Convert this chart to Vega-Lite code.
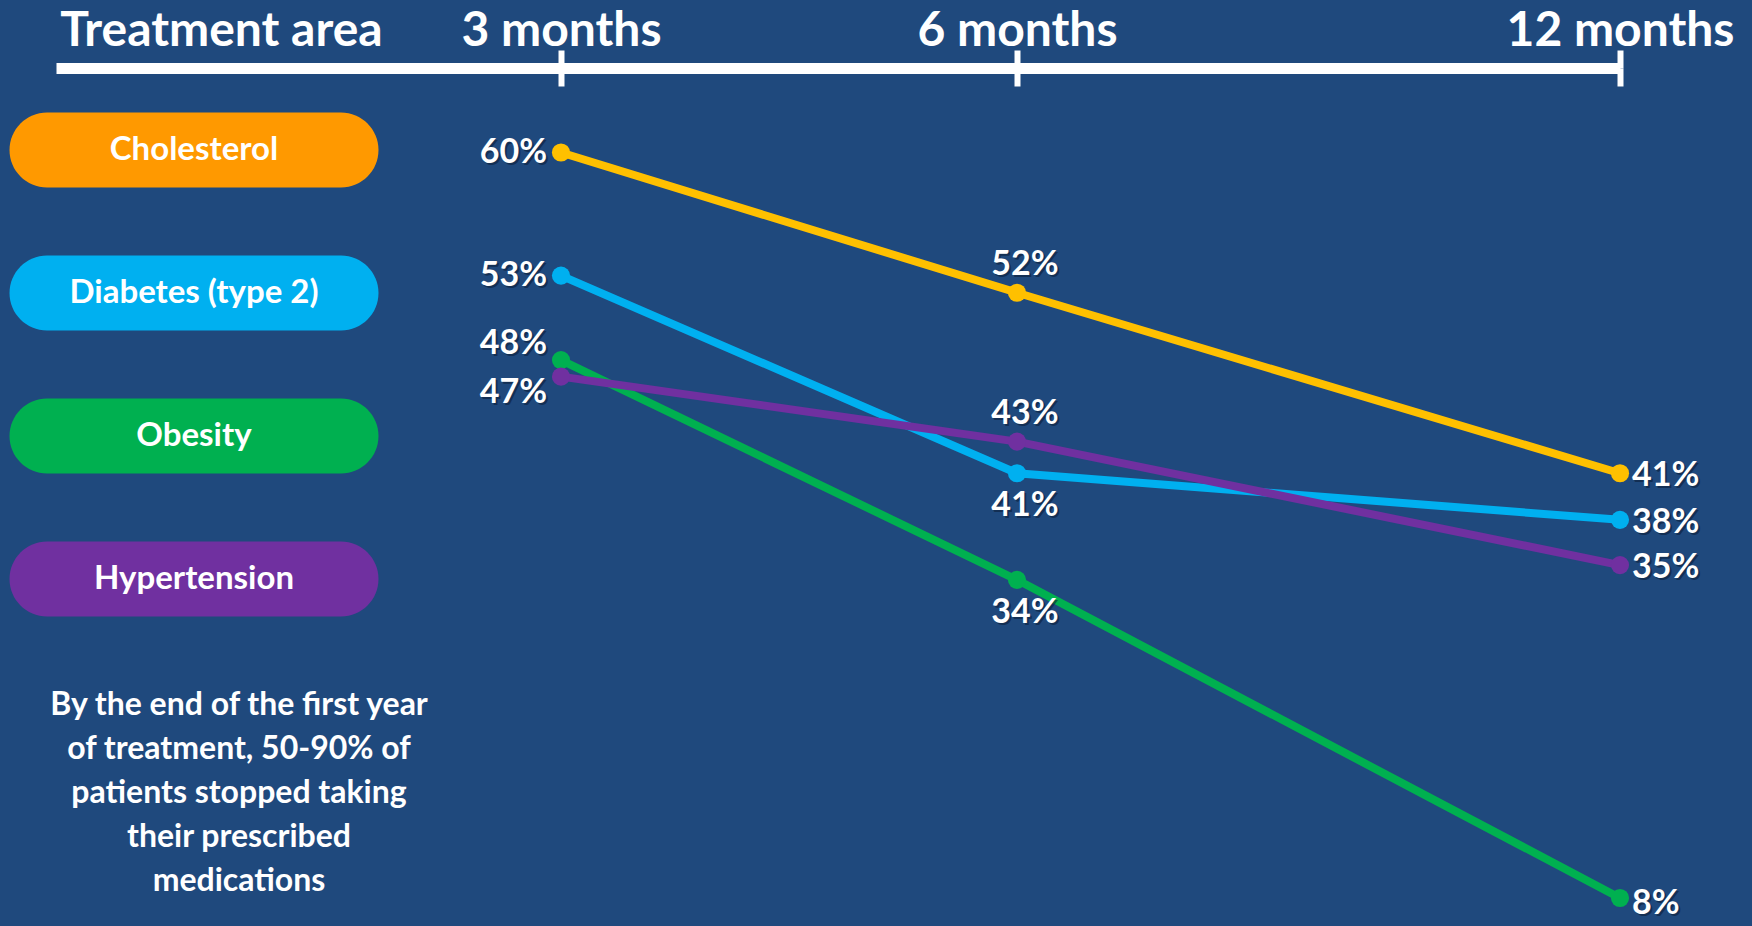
{
  "$schema": "https://vega.github.io/schema/vega-lite/v6.json",
  "width": 1752,
  "height": 926,
  "autosize": {"type": "fit", "contains": "padding"},
  "padding": 0,
  "background": "#1F497D",
  "config": {"view": {"stroke": null}, "font": "Lato"},
  "data": {
    "values": [
      {"area": "Cholesterol", "month": 3, "value": 0.60},
      {"area": "Cholesterol", "month": 6, "value": 0.52},
      {"area": "Cholesterol", "month": 12, "value": 0.41},
      {"area": "Diabetes (type 2)", "month": 3, "value": 0.53},
      {"area": "Diabetes (type 2)", "month": 6, "value": 0.41},
      {"area": "Diabetes (type 2)", "month": 12, "value": 0.38},
      {"area": "Obesity", "month": 3, "value": 0.48},
      {"area": "Obesity", "month": 6, "value": 0.34},
      {"area": "Obesity", "month": 12, "value": 0.08},
      {"area": "Hypertension", "month": 3, "value": 0.47},
      {"area": "Hypertension", "month": 6, "value": 0.43},
      {"area": "Hypertension", "month": 12, "value": 0.35}
    ]
  },
  "layer": [
    {
      "encoding": {
        "x": {
          "field": "month",
          "type": "quantitative",
          "scale": {"domain": [-1, 0, 3, 6, 12], "range": [56, 194, 561, 1017, 1620], "nice": false, "zero": false},
          "axis": {
            "orient": "top",
            "offset": -68,
            "values": [0, 3, 6, 12],
            "labelExpr": "datum.value == 0 ? 'Treatment area' : datum.value + ' months'",
            "labelFont": "Lato",
            "labelFontSize": 48,
            "labelFontWeight": "bold",
            "labelColor": "white",
            "labelBaseline": "alphabetic",
            "labelPadding": 5,
            "labelLimit": 600,
            "labelOverlap": false,
            "labelFlush": false,
            "labelBound": false,
            "labelOffset": {"condition": {"test": "datum.value == 0", "value": 27}, "value": 0},
            "tickSize": 18,
            "tickWidth": 6,
            "tickColor": "white",
            "tickCap": "butt",
            "tickOpacity": {"condition": {"test": "datum.value == 0", "value": 0}, "value": 1},
            "domainColor": "white",
            "domainWidth": 11,
            "domainCap": "butt",
            "grid": false,
            "title": null
          }
        },
        "y": {
          "field": "value",
          "type": "quantitative",
          "scale": {"type": "pow", "exponent": 1.35, "domain": [0.0455, 0.683], "nice": false, "zero": false},
          "axis": null
        }
      },
      "layer": [
        {
          "mark": {"type": "line", "strokeWidth": 8},
          "encoding": {
            "color": {
              "field": "area",
              "type": "nominal",
              "scale": {"domain": ["Cholesterol", "Diabetes (type 2)", "Obesity", "Hypertension"], "range": ["#FFC000", "#00B0F0", "#00B050", "#7030A0"]},
              "legend": null
            }
          }
        },
        {
          "mark": {"type": "point", "filled": true, "opacity": 1, "size": 330},
          "encoding": {
            "color": {"field": "area", "type": "nominal", "legend": null}
          }
        },
        {
          "mark": {
            "type": "text",
            "baseline": "middle",
            "font": "Lato",
            "fontSize": 34,
            "fontWeight": "bold",
            "fill": "#0b1a33",
            "opacity": 0.55,
            "align": {"expr": "datum.month == 3 ? 'right' : datum.month == 6 ? 'center' : 'left'"},
            "dx": {"expr": "(datum.month == 3 ? -14 : datum.month == 6 ? 8 : 12) + 2"},
            "dy": {"expr": "(datum.month == 3 ? (datum.area == 'Obesity' ? -16 : datum.area == 'Hypertension' ? 16 : 0) : datum.month == 6 ? ((datum.area == 'Obesity' || datum.area == 'Diabetes (type 2)') ? 33 : -28) : (datum.area == 'Obesity' ? 6 : 3)) + 2"}
          },
          "encoding": {"text": {"field": "value", "format": ".0%"}}
        },
        {
          "mark": {
            "type": "text",
            "baseline": "middle",
            "font": "Lato",
            "fontSize": 34,
            "fontWeight": "bold",
            "fill": "white",
            "align": {"expr": "datum.month == 3 ? 'right' : datum.month == 6 ? 'center' : 'left'"},
            "dx": {"expr": "datum.month == 3 ? -14 : datum.month == 6 ? 8 : 12"},
            "dy": {"expr": "datum.month == 3 ? (datum.area == 'Obesity' ? -16 : datum.area == 'Hypertension' ? 16 : 0) : datum.month == 6 ? ((datum.area == 'Obesity' || datum.area == 'Diabetes (type 2)') ? 33 : -28) : (datum.area == 'Obesity' ? 6 : 3)"}
          },
          "encoding": {"text": {"field": "value", "format": ".0%"}}
        }
      ]
    },
    {
      "encoding": {
        "x": {
          "datum": 0,
          "type": "quantitative",
          "scale": {"domain": [-1, 0, 3, 6, 12], "range": [56, 194, 561, 1017, 1620], "nice": false, "zero": false},
          "axis": {
            "orient": "bottom",
            "offset": -858,
            "values": [3, 6, 12],
            "labels": false,
            "domain": false,
            "grid": false,
            "tickSize": 18,
            "tickWidth": 6,
            "tickColor": "white",
            "tickCap": "butt",
            "title": null
          }
        }
      },
      "layer": [
        {
          "transform": [{"filter": "datum.month == 3"}],
          "mark": {
            "type": "point",
            "filled": true,
            "opacity": 1,
            "size": 136161,
            "shape": "M -0.7967 -0.2033 L 0.7967 -0.2033 A 0.2033 0.2033 0 0 1 0.7967 0.2033 L -0.7967 0.2033 A 0.2033 0.2033 0 0 1 -0.7967 -0.2033 Z"
          },
          "encoding": {
            "y": {
              "field": "area",
              "type": "nominal",
              "scale": {"type": "point", "domain": ["Cholesterol", "Diabetes (type 2)", "Obesity", "Hypertension"], "range": [150, 579], "padding": 0},
              "axis": null
            },
            "color": {
              "field": "area",
              "type": "nominal",
              "scale": {"domain": ["Cholesterol", "Diabetes (type 2)", "Obesity", "Hypertension"], "range": ["#FF9900", "#00B0F0", "#00B050", "#7030A0"]},
              "legend": null
            }
          }
        },
        {
          "transform": [{"filter": "datum.month == 3"}],
          "mark": {"type": "text", "align": "center", "baseline": "middle", "font": "Lato", "fontSize": 33, "fontWeight": "bold", "fill": "white"},
          "encoding": {
            "y": {"field": "area", "type": "nominal", "axis": null},
            "text": {"field": "area", "type": "nominal"}
          }
        },
        {
          "data": {"values": [{"note": "By the end of the first year\nof treatment, 50-90% of\npatients stopped taking\ntheir prescribed\nmedications"}]},
          "mark": {"type": "text", "align": "center", "baseline": "top", "lineBreak": "\n", "lineHeight": 44, "dx": 45, "dy": 111, "font": "Lato", "fontSize": 32, "fontWeight": "bold", "fill": "white"},
          "encoding": {
            "y": {"datum": "Hypertension", "type": "nominal", "axis": null},
            "text": {"field": "note", "type": "nominal"}
          }
        }
      ]
    }
  ],
  "resolve": {"scale": {"y": "independent", "color": "independent"}, "axis": {"x": "independent"}}
}
